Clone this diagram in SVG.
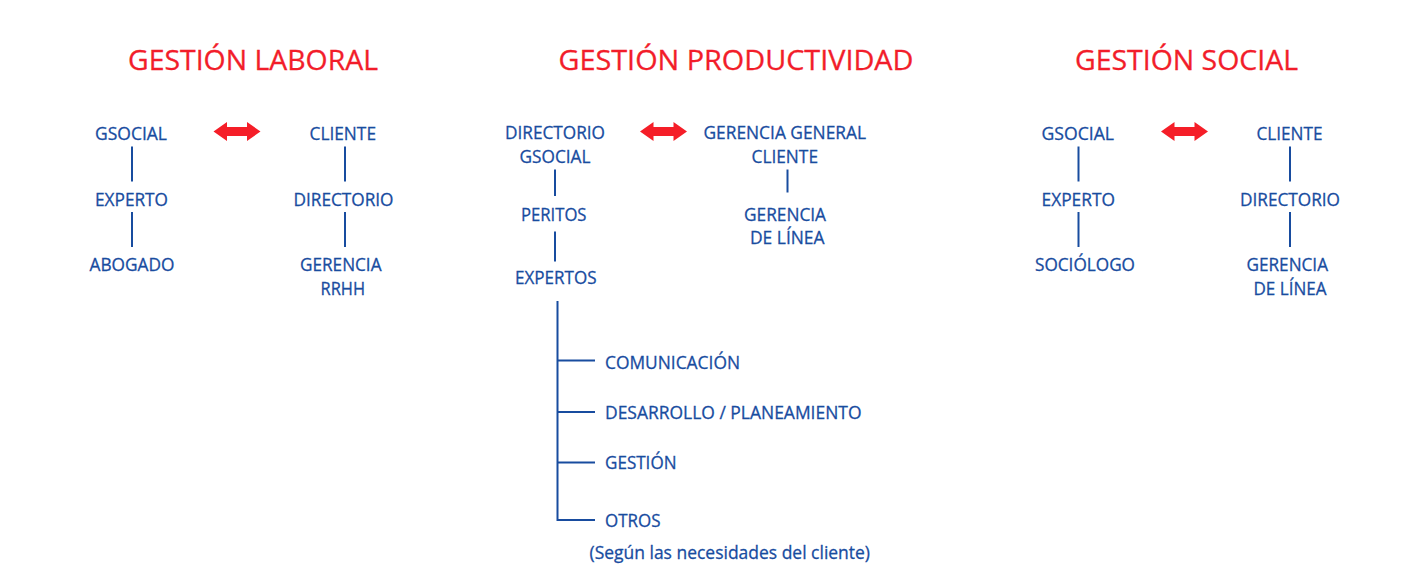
<svg xmlns="http://www.w3.org/2000/svg" xmlns:xlink="http://www.w3.org/1999/xlink" width="1402" height="586" viewBox="0 0 1402 586">
<style>
.t{font-family:"Open Sans","Noto Sans","Liberation Sans",sans-serif;font-size:27px;fill:#F21D2A;stroke:#F21D2A;stroke-width:0.3}
.n{font-family:"Open Sans","Noto Sans","Liberation Sans",sans-serif;font-size:18.5px;fill:#184C9F;stroke:#184C9F;stroke-width:0.3}
.c{stroke:#184C9F;stroke-width:2;fill:none}
.a{fill:#F51E28}
</style>
<defs>
<path id="dbl" d="M0,0 L13.5,-9.5 L13.5,-4.5 L33.5,-4.5 L33.5,-9.5 L47,0 L33.5,9.5 L33.5,4.5 L13.5,4.5 L13.5,9.5 Z"/>
</defs>
<rect width="1402" height="586" fill="#ffffff"/>

<g id="titles">
<text class="t" x="128" y="69.5" textLength="250" lengthAdjust="spacingAndGlyphs">GESTIÓN LABORAL</text>
<text class="t" x="558.5" y="69.5" textLength="355" lengthAdjust="spacingAndGlyphs">GESTIÓN PRODUCTIVIDAD</text>
<text class="t" x="1075" y="69.5" textLength="223" lengthAdjust="spacingAndGlyphs">GESTIÓN SOCIAL</text>
</g>

<g id="connectors">
<line class="c" x1="132" y1="146.5" x2="132" y2="181.5"/>
<line class="c" x1="132" y1="212" x2="132" y2="247"/>
<line class="c" x1="345" y1="146.5" x2="345" y2="181.5"/>
<line class="c" x1="345" y1="212" x2="345" y2="247"/>
<line class="c" x1="555" y1="169.5" x2="555" y2="196"/>
<line class="c" x1="555" y1="231.5" x2="555" y2="261.5"/>
<line class="c" x1="787.5" y1="169.5" x2="787.5" y2="192.5"/>
<path class="c" d="M557.5,301 V520 H595 M557.5,360.5 H595 M557.5,412 H595 M557.5,462.5 H595"/>
<line class="c" x1="1078.5" y1="146.5" x2="1078.5" y2="181.5"/>
<line class="c" x1="1078.5" y1="212" x2="1078.5" y2="247"/>
<line class="c" x1="1290" y1="146.5" x2="1290" y2="181.5"/>
<line class="c" x1="1290" y1="212" x2="1290" y2="247"/>
<use class="a" xlink:href="#dbl" href="#dbl" x="213.5" y="131.5"/>
<use class="a" xlink:href="#dbl" href="#dbl" x="640" y="131.5"/>
<use class="a" xlink:href="#dbl" href="#dbl" x="1161" y="131.5"/>
</g>

<g id="laboral-gsocial"><text class="n" x="95" y="140" textLength="72" lengthAdjust="spacingAndGlyphs">GSOCIAL</text></g>
<g id="laboral-experto"><text class="n" x="95" y="206" textLength="73" lengthAdjust="spacingAndGlyphs">EXPERTO</text></g>
<g id="laboral-abogado"><text class="n" x="89.5" y="270.5" textLength="85" lengthAdjust="spacingAndGlyphs">ABOGADO</text></g>
<g id="laboral-cliente"><text class="n" x="309.5" y="140" textLength="66.5" lengthAdjust="spacingAndGlyphs">CLIENTE</text></g>
<g id="laboral-directorio"><text class="n" x="293.5" y="206" textLength="100" lengthAdjust="spacingAndGlyphs">DIRECTORIO</text></g>
<g id="laboral-gerencia">
<text class="n" x="300" y="270.5" textLength="81.5" lengthAdjust="spacingAndGlyphs">GERENCIA</text>
<text class="n" x="320.5" y="295" textLength="44.5" lengthAdjust="spacingAndGlyphs">RRHH</text>
</g>

<g id="prod-directorio">
<text class="n" x="505" y="139" textLength="100" lengthAdjust="spacingAndGlyphs">DIRECTORIO</text>
<text class="n" x="519.5" y="162.5" textLength="71" lengthAdjust="spacingAndGlyphs">GSOCIAL</text>
</g>
<g id="prod-peritos"><text class="n" x="521" y="221" textLength="65.5" lengthAdjust="spacingAndGlyphs">PERITOS</text></g>
<g id="prod-expertos"><text class="n" x="515" y="284" textLength="81.5" lengthAdjust="spacingAndGlyphs">EXPERTOS</text></g>
<g id="prod-gerencia-general">
<text class="n" x="703.5" y="139" textLength="162.5" lengthAdjust="spacingAndGlyphs">GERENCIA GENERAL</text>
<text class="n" x="751.5" y="162.5" textLength="66.5" lengthAdjust="spacingAndGlyphs">CLIENTE</text>
</g>
<g id="prod-gerencia-linea">
<text class="n" x="744" y="221" textLength="82" lengthAdjust="spacingAndGlyphs">GERENCIA</text>
<text class="n" x="750" y="243.5" textLength="74.5" lengthAdjust="spacingAndGlyphs">DE LÍNEA</text>
</g>
<g id="prod-comunicacion"><text class="n" x="605" y="368.5" textLength="135" lengthAdjust="spacingAndGlyphs">COMUNICACIÓN</text></g>
<g id="prod-desarrollo"><text class="n" x="605" y="418.5" textLength="256.5" lengthAdjust="spacingAndGlyphs">DESARROLLO / PLANEAMIENTO</text></g>
<g id="prod-gestion"><text class="n" x="605" y="469" textLength="71.5" lengthAdjust="spacingAndGlyphs">GESTIÓN</text></g>
<g id="prod-otros"><text class="n" x="605" y="526.5" textLength="55.5" lengthAdjust="spacingAndGlyphs">OTROS</text></g>
<g id="prod-nota"><text class="n" x="589.5" y="559" textLength="280.5" lengthAdjust="spacingAndGlyphs">(Según las necesidades del cliente)</text></g>

<g id="social-gsocial"><text class="n" x="1041.5" y="140" textLength="72.5" lengthAdjust="spacingAndGlyphs">GSOCIAL</text></g>
<g id="social-experto"><text class="n" x="1041.5" y="206" textLength="73.5" lengthAdjust="spacingAndGlyphs">EXPERTO</text></g>
<g id="social-sociologo"><text class="n" x="1035" y="270.5" textLength="100" lengthAdjust="spacingAndGlyphs">SOCIÓLOGO</text></g>
<g id="social-cliente"><text class="n" x="1256.5" y="140" textLength="66" lengthAdjust="spacingAndGlyphs">CLIENTE</text></g>
<g id="social-directorio"><text class="n" x="1240" y="206" textLength="100" lengthAdjust="spacingAndGlyphs">DIRECTORIO</text></g>
<g id="social-gerencia">
<text class="n" x="1246.5" y="270.5" textLength="81.5" lengthAdjust="spacingAndGlyphs">GERENCIA</text>
<text class="n" x="1253.5" y="295" textLength="73" lengthAdjust="spacingAndGlyphs">DE LÍNEA</text>
</g>
</svg>
